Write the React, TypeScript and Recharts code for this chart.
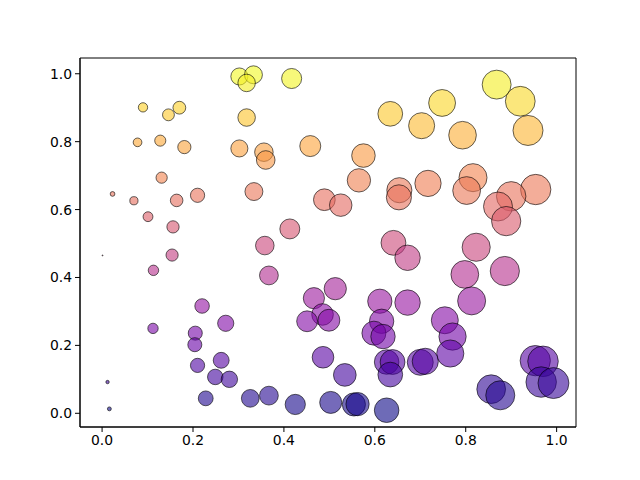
import { ScatterChart, Scatter, XAxis, YAxis, ZAxis, Cell, ReferenceArea } from "recharts"

// point positions; marker area scales with x, colour follows y
const X_VALUES = [
  0.302, 0.333, 0.318, 0.417, 0.09, 0.146, 0.17, 0.318, 0.634, 0.078,
  0.128, 0.181, 0.302, 0.356, 0.36, 0.458, 0.575, 0.131, 0.023, 0.07,
  0.164, 0.21, 0.334, 0.565, 0.489, 0.525, 0.654, 0.653, 0.101, 0.156,
  0.413, 0.868, 0.92, 0.748, 0.703, 0.793, 0.937, 0.816, 0.717, 0.802,
  0.954, 0.9, 0.871, 0.889, 0.001, 0.154, 0.113, 0.22, 0.272, 0.112,
  0.205, 0.204, 0.21, 0.262, 0.249, 0.28, 0.012, 0.228, 0.016, 0.358,
  0.641, 0.672, 0.367, 0.513, 0.466, 0.485, 0.451, 0.499, 0.611, 0.672,
  0.615, 0.598, 0.618, 0.486, 0.534, 0.626, 0.639, 0.634, 0.326, 0.367,
  0.425, 0.503, 0.554, 0.562, 0.626, 0.823, 0.798, 0.886, 0.813, 0.754,
  0.771, 0.766, 0.7, 0.711, 0.953, 0.97, 0.966, 0.993, 0.856, 0.876,
]

const Y_VALUES = [
  0.992, 0.997, 0.973, 0.986, 0.901, 0.879, 0.9, 0.871, 0.882, 0.798,
  0.803, 0.784, 0.78, 0.769, 0.746, 0.787, 0.759, 0.694, 0.646, 0.626,
  0.627, 0.642, 0.653, 0.686, 0.629, 0.613, 0.657, 0.636, 0.579, 0.549,
  0.543, 0.968, 0.919, 0.914, 0.847, 0.819, 0.833, 0.694, 0.677, 0.656,
  0.659, 0.639, 0.609, 0.566, 0.465, 0.466, 0.421, 0.316, 0.265, 0.25,
  0.236, 0.202, 0.141, 0.156, 0.107, 0.1, 0.092, 0.044, 0.013, 0.494,
  0.502, 0.458, 0.406, 0.367, 0.339, 0.291, 0.271, 0.274, 0.33, 0.326,
  0.271, 0.236, 0.226, 0.165, 0.113, 0.151, 0.151, 0.114, 0.044, 0.052,
  0.026, 0.032, 0.026, 0.027, 0.009, 0.489, 0.409, 0.419, 0.331, 0.274,
  0.226, 0.176, 0.15, 0.153, 0.155, 0.153, 0.092, 0.089, 0.071, 0.053,
]

const X_TICKS = [0, 0.2, 0.4, 0.6, 0.8, 1.0]
const Y_TICKS = [0, 0.2, 0.4, 0.6, 0.8, 1.0]

// plasma colormap stops
const PLASMA = [
  "#0d0887", "#41049d", "#6a00a8", "#8f0da4", "#b12a90", "#cc4778",
  "#e16462", "#f2844b", "#fca636", "#fcce25", "#f0f921",
]

function hexToRgb(hex: string) {
  const n = parseInt(hex.slice(1), 16)
  return [(n >> 16) & 255, (n >> 8) & 255, n & 255]
}

function plasma(t: number) {
  const v = Math.min(1, Math.max(0, t)) * (PLASMA.length - 1)
  const i = Math.min(Math.floor(v), PLASMA.length - 2)
  const f = v - i
  const a = hexToRgb(PLASMA[i])
  const b = hexToRgb(PLASMA[i + 1])
  const c = a.map((ch, k) => Math.round(ch + (b[k] - ch) * f))
  return `rgb(${c[0]},${c[1]},${c[2]})`
}

// matplotlib-style 5% padding around the data
function padded(values: number[]): [number, number] {
  const lo = Math.min(...values)
  const hi = Math.max(...values)
  const m = (hi - lo) * 0.05
  return [lo - m, hi + m]
}

const points = X_VALUES.map((x, i) => ({ x, y: Y_VALUES[i] }))
const yMin = Math.min(...Y_VALUES)
const yMax = Math.max(...Y_VALUES)

const tickStyle = { fill: "#000", fontSize: 13.9, fontFamily: "DejaVu Sans" }
const fmt = (v: number) => v.toFixed(1)

export default function App() {
  const xDomain = padded(X_VALUES)
  const yDomain = padded(Y_VALUES)

  return (
    <div style={{ position: "absolute", left: 0, top: 0, background: "#fff" }}>
      <ScatterChart width={640} height={480} margin={{ top: 58, right: 64, bottom: 23, left: 30 }}>
        <XAxis
          xAxisId="b"
          type="number"
          dataKey="x"
          domain={xDomain}
          allowDataOverflow
          ticks={X_TICKS}
          tickFormatter={fmt}
          tick={tickStyle}
          tickSize={5}
          tickMargin={3}
          height={30}
          stroke="#000"
          interval={0}
        />
        <YAxis
          yAxisId="l"
          type="number"
          dataKey="y"
          domain={yDomain}
          allowDataOverflow
          ticks={Y_TICKS}
          tickFormatter={fmt}
          tick={tickStyle}
          tickSize={5}
          tickMargin={3}
          width={50}
          stroke="#000"
          interval={0}
        />
        <ZAxis zAxisId="z" type="number" dataKey="x" domain={[0, 1]} range={[0, 757]} />
        {/* frame around the plot area */}
        <ReferenceArea
          xAxisId="b"
          yAxisId="l"
          x1={xDomain[0]}
          x2={xDomain[1]}
          y1={yDomain[0]}
          y2={yDomain[1]}
          fill="none"
          stroke="#000"
          strokeWidth={1}
          fillOpacity={0}
        />
        <Scatter
          data={points}
          xAxisId="b"
          yAxisId="l"
          zAxisId="z"
          stroke="#000"
          strokeWidth={1}
          strokeOpacity={0.6}
          fillOpacity={0.6}
          isAnimationActive={false}
        >
          {points.map((p, i) => (
            <Cell key={`pt-${i}`} fill={plasma((p.y - yMin) / (yMax - yMin))} />
          ))}
        </Scatter>
      </ScatterChart>
    </div>
  )
}
